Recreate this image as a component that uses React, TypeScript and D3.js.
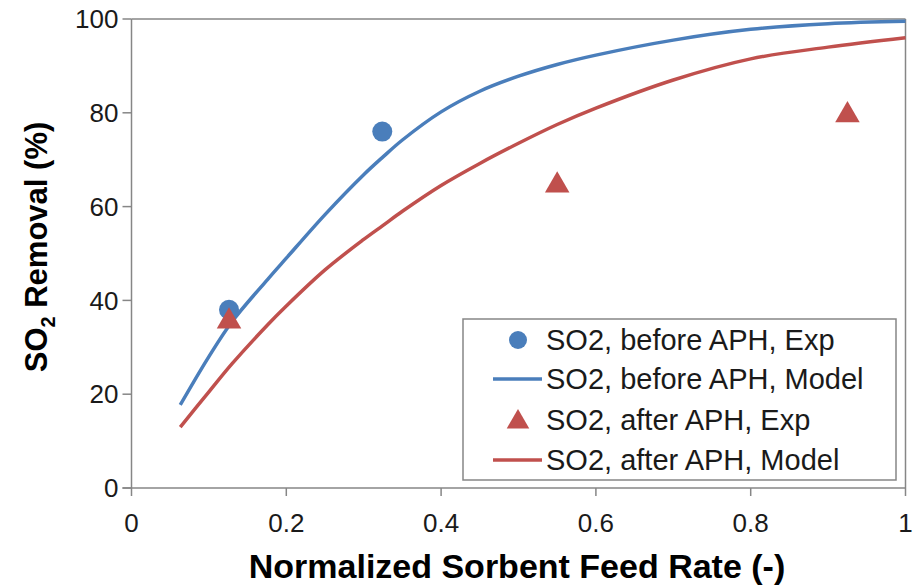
import React from 'react';
import * as d3 from 'd3';

const xTicks = [0, 0.2, 0.4, 0.6, 0.8, 1];
const yTicks = [0, 20, 40, 60, 80, 100];

// experimental points
const beforeExp: [number, number][] = [[0.126, 38], [0.324, 76]];
const afterExp: [number, number][] = [[0.126, 35.5], [0.55, 64.5], [0.925, 79.5]];

// model curves
const beforeModel: [number, number][] = [
  [0.063, 17.7], [0.1, 28], [0.13, 35.5], [0.176, 44.5], [0.2, 49], [0.25, 58.3],
  [0.3, 66.8], [0.325, 70.6], [0.35, 74.2], [0.4, 80.2], [0.45, 84.6], [0.5, 87.8],
  [0.55, 90.3], [0.6, 92.3], [0.7, 95.5], [0.8, 97.8], [0.9, 99], [1.0, 99.5],
];
const afterModel: [number, number][] = [
  [0.063, 13], [0.1, 20.5], [0.13, 26.5], [0.176, 34.8], [0.2, 38.8], [0.25, 46.5],
  [0.3, 53], [0.325, 56], [0.35, 59], [0.4, 64.5], [0.45, 69.2], [0.5, 73.5],
  [0.55, 77.5], [0.6, 81], [0.7, 87], [0.8, 91.5], [0.9, 94], [1.0, 96],
];

const legendLabels = [
  'SO2, before APH, Exp',
  'SO2, before APH, Model',
  'SO2, after APH, Exp',
  'SO2, after APH, Model',
];

const blue = '#4a7ebb';
const red = '#c0504d';
const axisGrey = '#868686';
const font = '"Liberation Sans", Arial, sans-serif';

export default function App() {
  const width = 918, height = 586;
  const x = d3.scaleLinear().domain([0, 1]).range([131.5, 905.5]);
  const y = d3.scaleLinear().domain([0, 100]).range([488, 19]);

  const line = d3.line<[number, number]>()
    .x(d => x(d[0]))
    .y(d => y(d[1]))
    .curve(d3.curveCatmullRom.alpha(0.5));

  const tri = d3.symbol().type(d3.symbolTriangle).size(260)();
  const triSmall = d3.symbol().type(d3.symbolTriangle).size(220)();

  const lx = 463, ly = 319, lw = 433, lh = 161;
  const rows = [340, 379, 420, 460];

  return (
    <svg width={width} height={height} style={{ position: 'absolute', left: 0, top: 0 }}
      fontFamily={font}>
      <rect width={width} height={height} fill="#fff" />
      {/* frame */}
      <line x1={x(0)} x2={x(1)} y1={y(100)} y2={y(100)} stroke={axisGrey} strokeWidth={1.5} />
      <line x1={x(1)} x2={x(1)} y1={y(100)} y2={y(0)} stroke={axisGrey} strokeWidth={1.5} />
      <line x1={x(0)} x2={x(0)} y1={y(100)} y2={y(0)} stroke={axisGrey} strokeWidth={1.5} />
      <line x1={x(0) - 9} x2={x(1)} y1={y(0)} y2={y(0)} stroke={axisGrey} strokeWidth={1.5} />
      {yTicks.map(t => (
        <g key={'y' + t}>
          <line x1={x(0) - 9} x2={x(0)} y1={y(t)} y2={y(t)} stroke={axisGrey} strokeWidth={1.5} />
          <text x={x(0) - 13} y={y(t)} dy="0.35em" textAnchor="end" fontSize={26} fill="#1a1a1a">{t}</text>
        </g>
      ))}
      {xTicks.map(t => (
        <g key={'x' + t}>
          <line x1={x(t)} x2={x(t)} y1={y(0)} y2={y(0) + 8} stroke={axisGrey} strokeWidth={1.5} />
          <text x={x(t)} y={532} textAnchor="middle" fontSize={26} fill="#1a1a1a">{t}</text>
        </g>
      ))}
      {/* curves */}
      <path d={line(afterModel) || ''} fill="none" stroke={red} strokeWidth={3.5} />
      <path d={line(beforeModel) || ''} fill="none" stroke={blue} strokeWidth={3.5} />
      {beforeExp.map((d, i) => (
        <circle key={'b' + i} cx={x(d[0])} cy={y(d[1])} r={10} fill={blue} />
      ))}
      {afterExp.map((d, i) => (
        <path key={'a' + i} d={tri || ''} transform={`translate(${x(d[0])},${y(d[1])})`} fill={red} />
      ))}
      {/* legend */}
      <rect x={lx} y={ly} width={lw} height={lh} fill="#fff" stroke={axisGrey} strokeWidth={1.5} />
      <circle cx={518} cy={rows[0]} r={9} fill={blue} />
      <line x1={493} x2={542} y1={rows[1]} y2={rows[1]} stroke={blue} strokeWidth={3.5} />
      <path d={triSmall || ''} transform={`translate(518,${rows[2] + 2})`} fill={red} />
      <line x1={493} x2={542} y1={rows[3]} y2={rows[3]} stroke={red} strokeWidth={3.5} />
      {legendLabels.map((l, i) => (
        <text key={l} x={546} y={rows[i]} dy="0.35em" fontSize={29} fill="#1a1a1a">{l}</text>
      ))}
      {/* axis titles */}
      <text x={517} y={578} textAnchor="middle" fontSize={34} fontWeight="bold" fill="#000">
        Normalized Sorbent Feed Rate (-)
      </text>
      <text transform="translate(47,247) rotate(-90)" textAnchor="middle" fontSize={31} fontWeight="bold" fill="#000">
        SO<tspan fontSize={20} dy={8}>2</tspan><tspan dy={-8}> Removal (%)</tspan>
      </text>
    </svg>
  );
}
